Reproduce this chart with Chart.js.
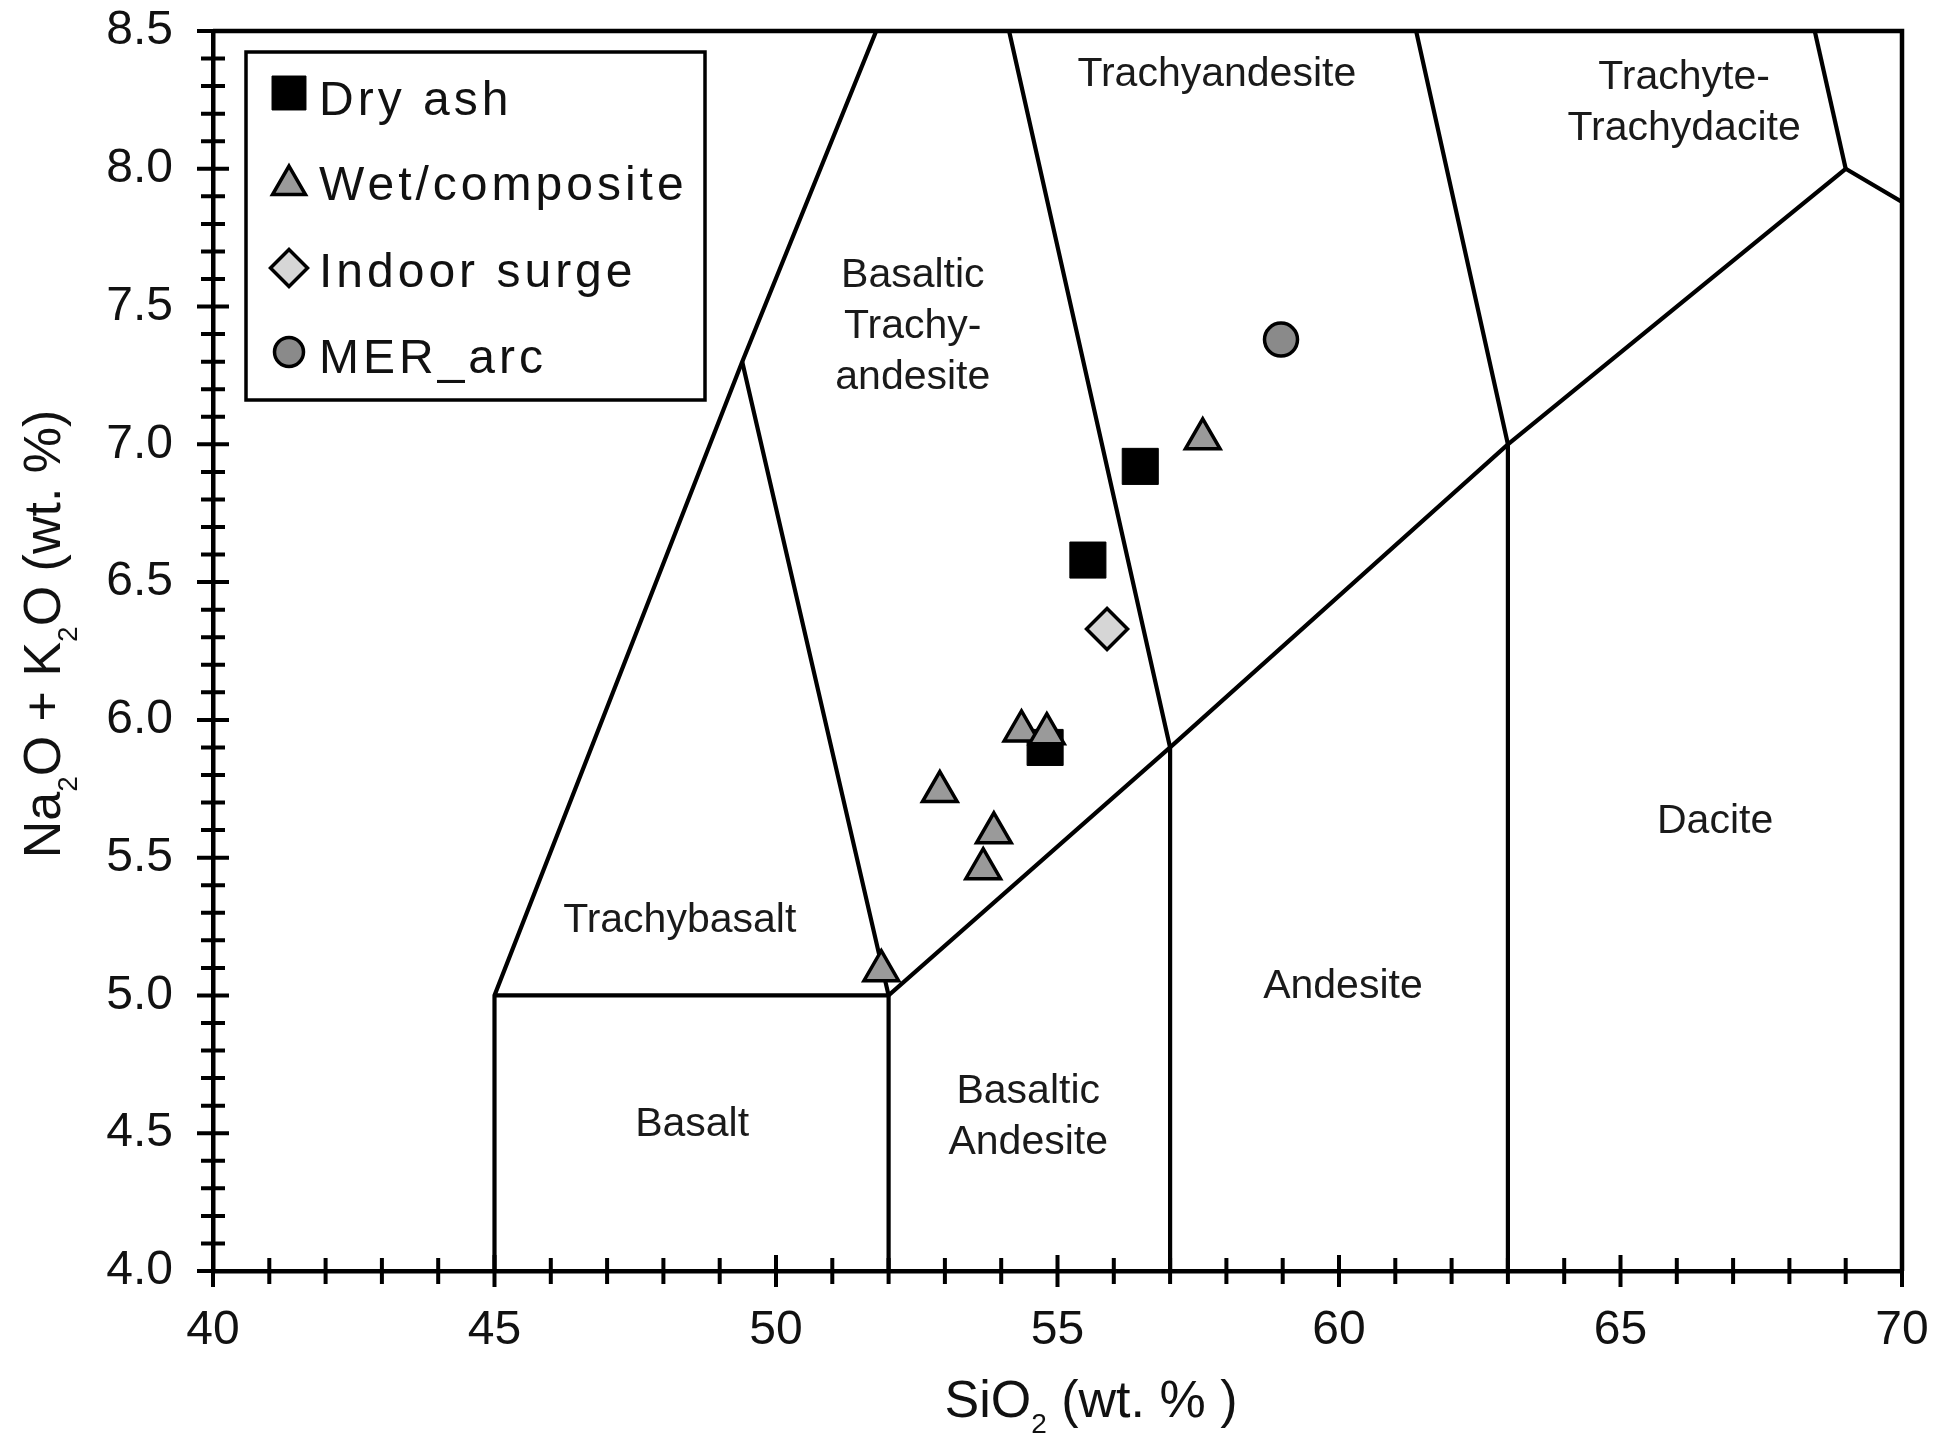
<!DOCTYPE html>
<html>
<head>
<meta charset="utf-8">
<script src="https://cdn.jsdelivr.net/npm/chart.js@4.4.1/dist/chart.umd.min.js"></script>
<style>
html,body{margin:0;padding:0;background:#fff;}
#wrap{width:1940px;height:1436px;}
</style>
</head>
<body>
<div id="wrap"><canvas id="c" width="1940" height="1436"></canvas></div>
<script>
const FONT = "'Liberation Sans', Arial, Helvetica, sans-serif";

// Axis ranges and tick steps
const xRange = [40, 70];
const yRange = [4.0, 8.5];
const xTickStep = 5;
const xMinorStep = 1;
const yTickStep = 0.5;
const yMinorStep = 0.1;

// Axis titles (text parts; second entry = subscript flag)
const xTitleParts = [['SiO', 0], ['2', 1], [' (wt. % )', 0]];
const yTitleParts = [['Na', 0], ['2', 1], ['O + K', 0], ['2', 1], ['O (wt. %)', 0]];

// Series: [SiO2, Na2O+K2O]
const seriesNames = ['Dry ash', 'Wet/composite', 'Indoor surge', 'MER_arc'];
const dryAsh = [[56.47, 6.92], [55.54, 6.58], [54.78, 5.90]];
const wetComposite = [[57.58, 7.02], [54.36, 5.96], [54.81, 5.95], [52.91, 5.74], [53.87, 5.59], [53.68, 5.46], [51.87, 5.09]];
const indoorSurge = [[55.88, 6.33]];
const merArc = [[58.97, 7.38]];

// TAS field boundaries (polylines in data units)
const boundaryLines = [
  [[45, 4.0], [45, 5.0], [49.4, 7.3], [51.78, 8.5]],
  [[45, 5.0], [52, 5.0], [52, 4.0]],
  [[49.4, 7.3], [52, 5.0], [57, 5.9], [63, 7.0], [69, 8.0], [70, 7.88]],
  [[57, 4.0], [57, 5.9], [54.14, 8.5]],
  [[63, 4.0], [63, 7.0], [61.37, 8.5]],
  [[69, 8.0], [68.45, 8.5]]
];

// Field names: lines, anchor x, first-line baseline y (data units)
const fieldText = [['Trachyandesite'], ['Trachyte-', 'Trachydacite'], ['Basaltic', 'Trachy-', 'andesite'], ['Trachybasalt'], ['Basalt'], ['Basaltic', 'Andesite'], ['Andesite'], ['Dacite']];
const fieldX = [57.83, 66.13, 52.43, 48.29, 48.51, 54.48, 60.07, 66.68];
const fieldY = [8.30, 8.29, 7.57, 5.23, 4.49, 4.61, 4.99, 5.59];

function toXY(arr) { return arr.map(p => ({x: p[0], y: p[1]})); }

const lineDatasets = boundaryLines.map((pts, i) => ({
  type: 'scatter', label: 'boundary' + i, data: toXY(pts), showLine: true,
  borderColor: '#000', borderWidth: 4.2, pointRadius: 0, fill: false,
  borderJoinStyle: 'miter', borderCapStyle: 'butt', tension: 0, order: 10, isSeries: false
}));

const seriesDatasets = [
  {label: seriesNames[0], data: toXY(dryAsh), pointStyle: 'rect', pointRadius: 25.5, pointBackgroundColor: '#000', pointBorderColor: '#000', pointBorderWidth: 1, order: 3, legendRadius: 24},
  {label: seriesNames[1], data: toXY(wetComposite), pointStyle: 'triangle', pointRadius: 20, pointBackgroundColor: '#9a9a9a', pointBorderColor: '#000', pointBorderWidth: 3.5, order: 2, legendRadius: 19},
  {label: seriesNames[2], data: toXY(indoorSurge), pointStyle: 'rectRot', pointRadius: 20.5, pointBackgroundColor: '#d6d6d6', pointBorderColor: '#000', pointBorderWidth: 3.5, order: 1, legendRadius: 18.5},
  {label: seriesNames[3], data: toXY(merArc), pointStyle: 'circle', pointRadius: 16.5, pointBackgroundColor: '#8a8a8a', pointBorderColor: '#000', pointBorderWidth: 3.5, order: 0, legendRadius: 14.5}
].map(d => Object.assign({type: 'scatter', showLine: false, isSeries: true}, d));

function drawMarker(ctx, style, r, x, y) {
  if (Chart.helpers && Chart.helpers.drawPoint) {
    Chart.helpers.drawPoint(ctx, {pointStyle: style, radius: r, rotation: 0, borderWidth: ctx.lineWidth}, x, y);
    return;
  }
  ctx.beginPath();
  if (style === 'rect') { const s = Math.SQRT1_2 * r; ctx.rect(x - s, y - s, 2 * s, 2 * s); }
  else if (style === 'triangle') {
    let a = 0; ctx.moveTo(x + Math.sin(a) * r, y - Math.cos(a) * r);
    a += 2 * Math.PI / 3; ctx.lineTo(x + Math.sin(a) * r, y - Math.cos(a) * r);
    a += 2 * Math.PI / 3; ctx.lineTo(x + Math.sin(a) * r, y - Math.cos(a) * r); ctx.closePath();
  } else if (style === 'rectRot') { ctx.moveTo(x - r, y); ctx.lineTo(x, y - r); ctx.lineTo(x + r, y); ctx.lineTo(x, y + r); ctx.closePath(); }
  else { ctx.arc(x, y, r, 0, Math.PI * 2); }
  ctx.fill(); ctx.stroke();
}

function drawParts(ctx, parts, mainSize, subSize, subShift) {
  let w = 0;
  parts.forEach(p => { ctx.font = (p[1] ? subSize : mainSize) + 'px ' + FONT; w += ctx.measureText(p[0]).width; });
  let x = -w / 2;
  ctx.textAlign = 'left'; ctx.textBaseline = 'alphabetic';
  parts.forEach(p => {
    ctx.font = (p[1] ? subSize : mainSize) + 'px ' + FONT;
    ctx.fillText(p[0], x, p[1] ? subShift : 0);
    x += ctx.measureText(p[0]).width;
  });
}

const tasPlugin = {
  id: 'tas',
  beforeDatasetsDraw(chart) {
    const ctx = chart.ctx, xs = chart.scales.x, ys = chart.scales.y;
    ctx.save();
    ctx.fillStyle = '#1a1a1a';
    ctx.font = '41px ' + FONT;
    ctx.textAlign = 'center';
    ctx.textBaseline = 'alphabetic';
    fieldText.forEach((lines, i) => {
      const px = xs.getPixelForValue(fieldX[i]);
      const py = ys.getPixelForValue(fieldY[i]);
      lines.forEach((t, j) => ctx.fillText(t, px, py + j * 51));
    });
    ctx.restore();
  },
  afterDraw(chart) {
    const ctx = chart.ctx, xs = chart.scales.x, ys = chart.scales.y, ca = chart.chartArea;
    ctx.save();
    // frame top & right
    ctx.strokeStyle = '#000';
    ctx.lineWidth = 4.5;
    ctx.beginPath();
    ctx.moveTo(ca.left, ca.top); ctx.lineTo(ca.right, ca.top); ctx.lineTo(ca.right, ca.bottom);
    ctx.stroke();
    // crossing tick marks
    ctx.lineWidth = 4;
    ctx.beginPath();
    const nx = Math.round((xRange[1] - xRange[0]) / xMinorStep);
    const xPer = Math.round(xTickStep / xMinorStep);
    for (let i = 0; i <= nx; i++) {
      const p = xs.getPixelForValue(xRange[0] + i * xMinorStep);
      const len = (i % xPer === 0) ? 16 : 13;
      ctx.moveTo(p, ca.bottom - len); ctx.lineTo(p, ca.bottom + len);
    }
    const ny = Math.round((yRange[1] - yRange[0]) / yMinorStep);
    const yPer = Math.round(yTickStep / yMinorStep);
    for (let i = 0; i <= ny; i++) {
      const p = ys.getPixelForValue(yRange[0] + i * yMinorStep);
      const len = (i % yPer === 0) ? 16 : 12;
      ctx.moveTo(ca.left - len, p); ctx.lineTo(ca.left + len, p);
    }
    ctx.stroke();

    // legend
    const lx = 246, ly = 52, lw = 459, lh = 348;
    ctx.fillStyle = '#fff';
    ctx.fillRect(lx, ly, lw, lh);
    ctx.lineWidth = 3.5;
    ctx.strokeRect(lx, ly, lw, lh);
    const markerY = [93, 185, 268, 352];
    const textY = [115, 200, 287, 373];
    const ds = chart.data.datasets.filter(d => d.isSeries);
    ds.forEach((d, i) => {
      ctx.fillStyle = d.pointBackgroundColor;
      ctx.strokeStyle = d.pointBorderColor;
      ctx.lineWidth = d.pointBorderWidth;
      drawMarker(ctx, d.pointStyle, d.legendRadius, 289, markerY[i]);
      ctx.fillStyle = '#111';
      ctx.font = '48px ' + FONT;
      ctx.textAlign = 'left';
      ctx.textBaseline = 'alphabetic';
      try { ctx.letterSpacing = '4px'; } catch (e) {}
      ctx.fillText(d.label, 319, textY[i]);
      try { ctx.letterSpacing = '0px'; } catch (e) {}
    });

    // axis titles
    ctx.fillStyle = '#111';
    ctx.save();
    ctx.translate(1091, 1417);
    drawParts(ctx, xTitleParts, 52, 28, 16);
    ctx.restore();
    ctx.save();
    ctx.translate(60, 634);
    ctx.rotate(-Math.PI / 2);
    drawParts(ctx, yTitleParts, 52, 28, 17);
    ctx.restore();
    ctx.restore();
  }
};

function zeroPad(scale) {
  scale.paddingTop = 0; scale.paddingBottom = 0; scale.paddingLeft = 0; scale.paddingRight = 0;
}

new Chart(document.getElementById('c'), {
  type: 'scatter',
  data: {datasets: lineDatasets.concat(seriesDatasets)},
  options: {
    responsive: false,
    animation: false,
    events: [],
    layout: {padding: {left: 0, top: 31, right: 38, bottom: 0}},
    plugins: {legend: {display: false}, tooltip: {enabled: false}},
    scales: {
      x: {
        type: 'linear', min: xRange[0], max: xRange[1],
        grid: {display: false, drawTicks: false},
        border: {display: true, color: '#000', width: 4.5},
        ticks: {stepSize: xTickStep, autoSkip: false, maxRotation: 0, padding: 31, color: '#111', font: {family: FONT, size: 48}},
        afterFit(scale) { scale.height = 165; zeroPad(scale); }
      },
      y: {
        type: 'linear', min: yRange[0], max: yRange[1],
        grid: {display: false, drawTicks: false},
        border: {display: true, color: '#000', width: 4.5},
        ticks: {stepSize: yTickStep, autoSkip: false, padding: 40, color: '#111', font: {family: FONT, size: 48},
          callback: v => Number(v).toFixed(1)},
        afterFit(scale) { scale.width = 213; zeroPad(scale); }
      }
    }
  },
  plugins: [tasPlugin]
});
</script>
</body>
</html>
